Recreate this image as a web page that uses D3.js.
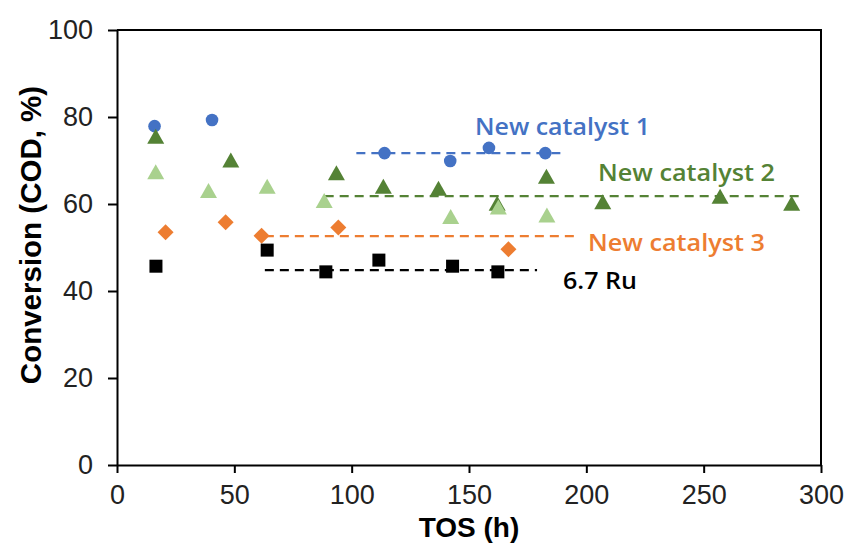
<!DOCTYPE html>
<html>
<head>
<meta charset="utf-8">
<script src="https://cdn.jsdelivr.net/npm/d3@7"></script>
<style>
  html, body { margin: 0; padding: 0; background: #fff; }
  svg { display: block; }
</style>
</head>
<body>
<svg id="chart" width="848" height="544"></svg>
<script>
// ---- data ----
const xTicks = [0, 50, 100, 150, 200, 250, 300];
const yTicks = [0, 20, 40, 60, 80, 100];

const cat1Tos = [16, 40.5, 114, 142, 158.5, 182.5];
const cat1Val = [77.9, 79.3, 71.7, 69.9, 72.9, 71.7];

const cat2Tos = [16.5, 48.5, 93.5, 113.5, 137, 162, 183, 207, 257, 287.5];
const cat2Val = [75.6, 70.1, 67.2, 64.1, 63.6, 60.2, 66.4, 60.5, 61.8, 60.2];

const refTos = [16.5, 39, 64, 88.3, 142.2, 162.5, 183.2];
const refVal = [67.4, 63.1, 64.1, 60.8, 57.1, 59.3, 57.5];

const cat3Tos = [20.7, 46.3, 61.6, 94.3, 166.8];
const cat3Val = [53.5, 55.8, 52.7, 54.6, 49.6];

const ruTos = [16.6, 64, 89, 111.6, 143, 162.3];
const ruVal = [45.7, 49.4, 44.4, 47.1, 45.7, 44.4];

// average dashed lines: [start TOS, end TOS], level
const avgLines = [
  { name: "New catalyst 1", from: 102, to: 190, level: 71.7, color: "#4472C4" },
  { name: "New catalyst 2", from: 88.5, to: 292, level: 61.8, color: "#548235" },
  { name: "New catalyst 3", from: 63, to: 197, level: 52.6, color: "#ED7D31" },
  { name: "6.7 Ru", from: 63, to: 179, level: 44.8, color: "#000000" }
];

// ---- layout ----
const svg = d3.select("#chart");
const x = d3.scaleLinear().domain([0, 300]).range([117, 821]);
const y = d3.scaleLinear().domain([0, 100]).range([465, 30]);

// frame (top and right)
svg.append("path")
  .attr("d", `M${x(0)},${y(100)}H${x(300)}V${y(0)}`)
  .attr("fill", "none").attr("stroke", "#000").attr("stroke-width", 2);

// axes
const yAxis = svg.append("g")
  .attr("transform", `translate(${x(0)},0)`)
  .call(d3.axisLeft(y).tickValues(yTicks).tickSize(9).tickPadding(15).tickSizeOuter(0));
const xAxis = svg.append("g")
  .attr("transform", `translate(0,${y(0)})`)
  .call(d3.axisBottom(x).tickValues(xTicks).tickSize(8).tickPadding(12).tickSizeOuter(0));

[yAxis, xAxis].forEach(g => {
  g.select(".domain").attr("stroke", "#000").attr("stroke-width", 2);
  g.selectAll(".tick line").attr("stroke", "#000").attr("stroke-width", 2);
  g.selectAll(".tick text")
    .attr("fill", "#222")
    .style("font-family", "'Liberation Sans', Arial, sans-serif")
    .style("font-size", "27px");
});

// axis titles
svg.append("text")
  .attr("transform", `translate(41,235) rotate(-90)`)
  .attr("text-anchor", "middle")
  .style("font-family", "'Liberation Sans', Arial, sans-serif")
  .style("font-size", "29.5px").style("font-weight", "bold")
  .attr("fill", "#000")
  .text("Conversion (COD, %)");

svg.append("text")
  .attr("x", 469).attr("y", 537)
  .attr("text-anchor", "middle")
  .style("font-family", "'Liberation Sans', Arial, sans-serif")
  .style("font-size", "28px").style("font-weight", "bold")
  .attr("fill", "#000")
  .text("TOS (h)");

// dashed average lines
svg.append("g").selectAll("line").data(avgLines).join("line")
  .attr("x1", d => x(d.from)).attr("x2", d => x(d.to))
  .attr("y1", d => y(d.level)).attr("y2", d => y(d.level))
  .attr("stroke", d => d.color).attr("stroke-width", 2.2)
  .attr("stroke-dasharray", "9,6");

// markers
function pts(tos, val) { return tos.map((t, i) => ({ t, v: val[i] })); }

svg.append("g").selectAll("circle").data(pts(cat1Tos, cat1Val)).join("circle")
  .attr("cx", d => x(d.t)).attr("cy", d => y(d.v)).attr("r", 6.3)
  .attr("fill", "#4472C4");

const tri = (w, h) => `M0,${-h / 2}L${w / 2},${h / 2}L${-w / 2},${h / 2}Z`;

svg.append("g").selectAll("path").data(pts(cat2Tos, cat2Val)).join("path")
  .attr("transform", d => `translate(${x(d.t)},${y(d.v)})`)
  .attr("d", tri(17, 15)).attr("fill", "#548235");

svg.append("g").selectAll("path").data(pts(refTos, refVal)).join("path")
  .attr("transform", d => `translate(${x(d.t)},${y(d.v)})`)
  .attr("d", tri(17, 15)).attr("fill", "#A9D18E");

svg.append("g").selectAll("path").data(pts(cat3Tos, cat3Val)).join("path")
  .attr("transform", d => `translate(${x(d.t)},${y(d.v)})`)
  .attr("d", "M0,-8L8,0L0,8L-8,0Z").attr("fill", "#ED7D31");

svg.append("g").selectAll("rect").data(pts(ruTos, ruVal)).join("rect")
  .attr("x", d => x(d.t) - 6.5).attr("y", d => y(d.v) - 6.5)
  .attr("width", 13).attr("height", 13).attr("fill", "#000");

// annotations
const labels = [
  { text: "New catalyst 1", x: 475, y: 135, w: 175, color: "#4472C4" },
  { text: "New catalyst 2", x: 598, y: 181, w: 177, color: "#548235" },
  { text: "New catalyst 3", x: 588, y: 251, w: 177, color: "#ED7D31" },
  { text: "6.7 Ru", x: 563, y: 289, w: 74, color: "#000000" }
];
svg.append("g").selectAll("text").data(labels).join("text")
  .attr("x", d => d.x).attr("y", d => d.y)
  .attr("textLength", d => d.w).attr("lengthAdjust", "spacingAndGlyphs")
  .style("font-family", "'Open Sans', sans-serif")
  .style("font-size", "22.5px").style("font-weight", 600)
  .attr("fill", d => d.color)
  .text(d => d.text);
</script>
</body>
</html>
